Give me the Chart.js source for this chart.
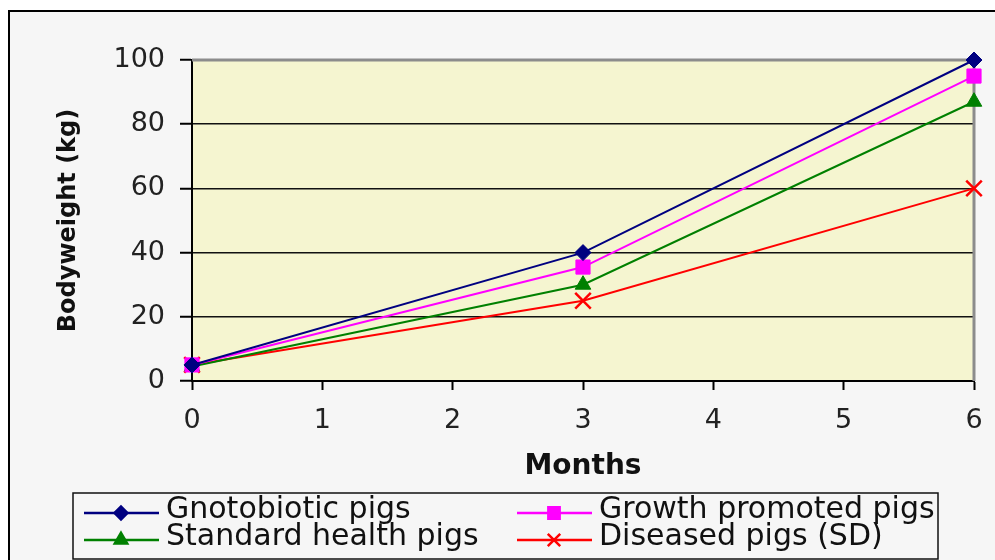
<!DOCTYPE html>
<html>
<head>
<meta charset="utf-8">
<script src="https://cdn.jsdelivr.net/npm/chart.js@4"></script>
<style>
    body { margin: 0; background: #fff; }
</style>
</head>
<body>
<canvas id="pigChart" width="995" height="560"></canvas>
<script>
const months = [0, 3, 6];
const seriesNames = ['Gnotobiotic pigs', 'Growth promoted pigs', 'Standard health pigs', 'Diseased pigs (SD)'];
const gnotobiotic = [5, 40, 100];
const growthPromoted = [5, 35.5, 95];
const standardHealth = [4.5, 30, 87];
const diseased = [5, 25, 60];
const xTicks = [0, 1, 2, 3, 4, 5, 6];
const yTicks = [0, 20, 40, 60, 80, 100];

const seriesValues = [gnotobiotic, growthPromoted, standardHealth, diseased];
const seriesColors = ['#000080', '#FF00FF', '#008000', '#FF0000'];
const seriesMarkers = ['rectRot', 'rect', 'triangle', 'crossRot'];
const markerSizes = [8, 10, 9, 11];

function toPoints(values) {
    return values.map((v, i) => ({x: months[i], y: v}));
}

// frame, plot background and the grey top/right edges
const chartFrame = {
    id: 'chartFrame',
    beforeDraw(chart) {
        const c = chart.ctx;
        const a = chart.chartArea;
        c.save();
        c.fillStyle = '#ffffff';
        c.fillRect(0, 0, chart.width, chart.height);
        c.fillStyle = '#F6F6F6';
        c.fillRect(9, 11, chart.width, chart.height);
        c.strokeStyle = '#000';
        c.lineWidth = 2;
        c.beginPath();
        c.moveTo(9, chart.height);
        c.lineTo(9, 11);
        c.lineTo(chart.width, 11);
        c.stroke();
        c.fillStyle = '#F5F5D0';
        c.fillRect(a.left, a.top, a.right - a.left, a.bottom - a.top);
        c.restore();
    },
    beforeDatasetsDraw(chart) {
        const c = chart.ctx;
        const a = chart.chartArea;
        c.save();
        c.strokeStyle = '#8C8C8C';
        c.lineWidth = 3;
        c.beginPath();
        c.moveTo(a.left, a.top);
        c.lineTo(a.right, a.top);
        c.lineTo(a.right, a.bottom);
        c.stroke();
        c.restore();
    }
};

// boxed legend, two columns
const boxLegend = {
    id: 'boxLegend',
    afterDraw(chart) {
        const c = chart.ctx;
        c.save();
        c.fillStyle = '#F6F6F6';
        c.fillRect(73, 493, 865, 66);
        c.strokeStyle = '#111';
        c.lineWidth = 1.5;
        c.strokeRect(73, 493, 865, 66);
        c.font = '30px "DejaVu Sans"';
        c.textBaseline = 'alphabetic';
        const colX = [84, 517];
        const rowY = [513, 540];
        chart.data.datasets.forEach((ds, i) => {
            const x = colX[i % 2];
            const y = rowY[Math.floor(i / 2)];
            c.strokeStyle = ds.borderColor;
            c.fillStyle = ds.borderColor;
            c.lineWidth = 2.5;
            c.beginPath();
            c.moveTo(x, y);
            c.lineTo(x + 75, y);
            c.stroke();
            Chart.helpers.drawPoint(c, {
                pointStyle: ds.pointStyle,
                radius: ds.pointRadius * 0.8,
                borderWidth: 2,
                rotation: 0
            }, x + 37, y);
            c.fillStyle = '#111';
            c.fillText(ds.label, x + 82, y + 5);
        });
        c.restore();
    }
};

function pigChart() {
    const ctx = document.getElementById('pigChart').getContext('2d');
    const myChart = new Chart(ctx, {
        type: 'line',
        plugins: [chartFrame, boxLegend],
        data: {
            datasets: seriesNames.map((name, i) => ({
                label: name,
                data: toPoints(seriesValues[i]),
                borderColor: seriesColors[i],
                backgroundColor: seriesColors[i],
                borderWidth: 2,
                pointStyle: seriesMarkers[i],
                pointRadius: markerSizes[i],
                pointBorderWidth: seriesMarkers[i] === 'crossRot' ? 2.5 : 1,
                tension: 0,
                clip: false
            }))
        },
        options: {
            responsive: false,
            animation: false,
            layout: {
                padding: {left: 0, right: 21, top: 60, bottom: 69}
            },
            plugins: {
                legend: { display: false },
                tooltip: { enabled: false }
            },
            scales: {
                x: {
                    type: 'linear',
                    min: 0,
                    max: 6,
                    afterFit: (scale) => {
                        scale.height = 110;
                        scale.paddingLeft = 0;
                        scale.paddingRight = 0;
                    },
                    afterBuildTicks: (scale) => { scale.ticks = xTicks.map(v => ({value: v})); },
                    grid: {
                        drawOnChartArea: false,
                        drawTicks: true,
                        tickLength: 9,
                        tickColor: '#000',
                        tickWidth: 2
                    },
                    border: { color: '#000', width: 2 },
                    ticks: {
                        padding: 15,
                        color: '#222',
                        maxRotation: 0,
                        font: { family: 'DejaVu Sans', size: 27 }
                    },
                    title: {
                        display: true,
                        text: 'Months',
                        color: '#111',
                        padding: { top: 0, bottom: 7 },
                        font: { family: 'DejaVu Sans', size: 28, weight: 'bold' }
                    }
                },
                y: {
                    min: 0,
                    max: 100,
                    afterFit: (scale) => { scale.width = 192; },
                    afterBuildTicks: (scale) => { scale.ticks = yTicks.map(v => ({value: v})); },
                    grid: {
                        color: (c) => c.tick && c.tick.value === 100 ? 'rgba(0,0,0,0)' : '#111',
                        lineWidth: 1.5,
                        tickLength: 12,
                        tickColor: '#000',
                        tickWidth: 2
                    },
                    border: { color: '#000', width: 2 },
                    ticks: {
                        padding: 15,
                        color: '#222',
                        font: { family: 'DejaVu Sans', size: 27 }
                    },
                    title: {
                        display: true,
                        text: 'Bodyweight (kg)',
                        color: '#111',
                        padding: { top: 54, bottom: 0 },
                        font: { family: 'DejaVu Sans', size: 24, weight: 'bold' }
                    }
                }
            }
        }
    });
}

pigChart();
</script>
</body>
</html>
